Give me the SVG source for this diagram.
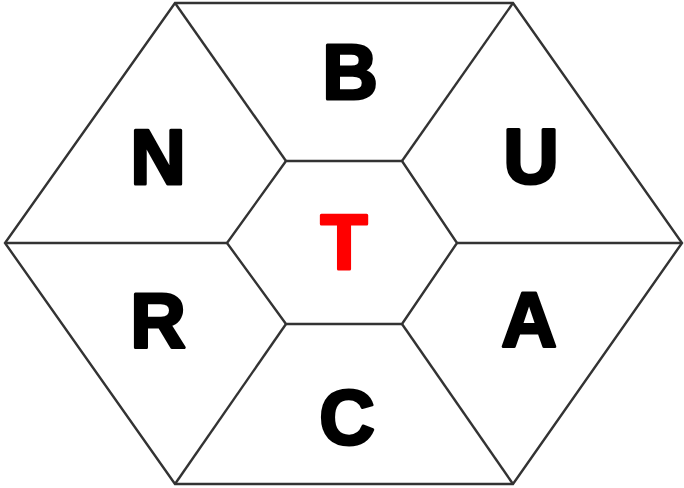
<svg xmlns="http://www.w3.org/2000/svg" width="684" height="488" viewBox="0 0 684 488">
<style>
.edge{fill:none;stroke:#333;stroke-width:2.4;stroke-linejoin:miter}
.lbl{font-family:"Liberation Sans",Arial,sans-serif;font-weight:bold;font-size:77px;text-anchor:middle;fill:#000;stroke:#000;stroke-width:3;stroke-linejoin:round;stroke-linecap:round}
.red{fill:#f00;stroke:#f00}
</style>
<rect width="684" height="488" fill="#fff"/>
<g id="connectors">
<polygon class="edge" points="175,3 513,3 682,243 513,484 175,484 5,243"/>
<polygon class="edge" points="286,161 402,161 457,243 402,324 286,324 227,243"/>
<line class="edge" x1="175" y1="3" x2="286" y2="161"/>
<line class="edge" x1="513" y1="3" x2="402" y2="161"/>
<line class="edge" x1="682" y1="243" x2="457" y2="243"/>
<line class="edge" x1="513" y1="484" x2="402" y2="324"/>
<line class="edge" x1="175" y1="484" x2="286" y2="324"/>
<line class="edge" x1="5" y1="243" x2="227" y2="243"/>
</g>
<g id="node-B"><text class="lbl" x="350" y="99">B</text></g>
<g id="node-N"><text class="lbl" x="158" y="184">N</text></g>
<g id="node-U"><text class="lbl" x="531" y="183">U</text></g>
<g id="node-T"><text class="lbl red" x="344" y="269">T</text></g>
<g id="node-R"><text class="lbl" x="158" y="347">R</text></g>
<g id="node-A"><text class="lbl" x="529" y="347">A</text></g>
<g id="node-C"><text class="lbl" x="347" y="444">C</text></g>
</svg>
